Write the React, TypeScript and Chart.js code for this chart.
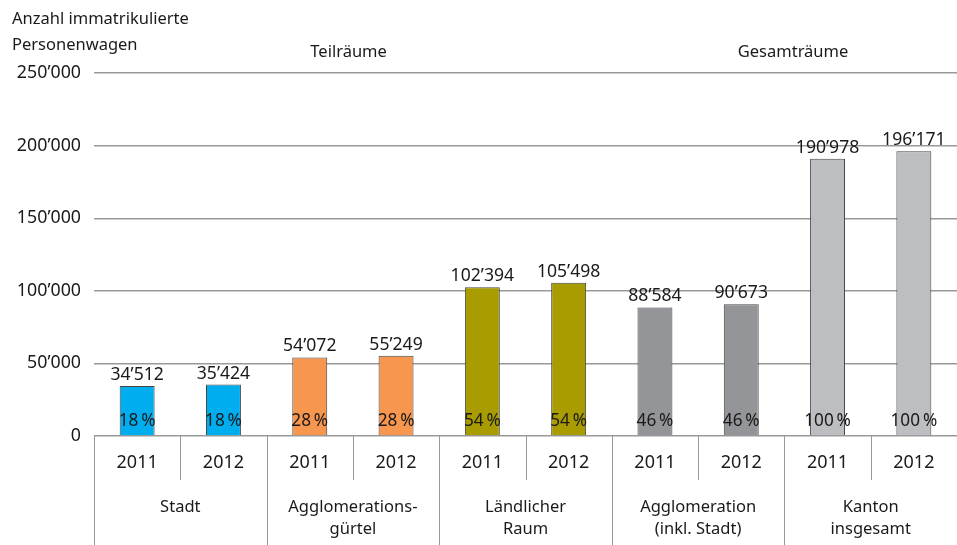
import React, { useEffect, useRef } from "react";
import { Chart, registerables } from "chart.js";

Chart.register(...registerables);

const years = ["2011", "2012", "2011", "2012", "2011", "2012", "2011", "2012", "2011", "2012"];
const groupLabels: string[][] = [
  ["Stadt"],
  ["Agglomerations-", "gürtel"],
  ["Ländlicher", "Raum"],
  ["Agglomeration", "(inkl. Stadt)"],
  ["Kanton", "insgesamt"],
];
const values = [34512, 35424, 54072, 55249, 102394, 105498, 88584, 90673, 190978, 196171];
const shares = [18, 18, 28, 28, 54, 54, 46, 46, 100, 100];
const groupColors = ["#00AEEF", "#F7964F", "#A89C00", "#949598", "#BDBEC1"];
const yTitle = ["Anzahl immatrikulierte", "Personenwagen"];
const headers = [
  { text: "Teilräume", at: 2.45 },
  { text: "Gesamträume", at: 7.6 },
];
const yMax = 250000;
const yStep = 50000;

const FONT = "'Noto Sans', 'Open Sans', sans-serif";
const TEXT = "#1a1a1a";
const LINE = "#999999";

function fmt(n: number): string {
  return String(n).replace(/\B(?=(\d{3})+(?!\d))/g, "\u2019");
}

const overlay = {
  id: "overlay",
  afterDraw(chart: any) {
    const ctx = chart.ctx as CanvasRenderingContext2D;
    const x = chart.scales.x;
    const y = chart.scales.y;
    const n = values.length;
    const w = (x.right - x.left) / n;
    const base = y.getPixelForValue(0);
    const H = chart.height;
    ctx.save();
    ctx.fillStyle = TEXT;
    ctx.textAlign = "center";

    // value labels & percent labels
    for (let i = 0; i < n; i++) {
      const cx = x.getPixelForValue(i);
      const top = y.getPixelForValue(values[i]);
      ctx.font = `17.6px ${FONT}`;
      ctx.textBaseline = "alphabetic";
      ctx.fillText(fmt(values[i]), cx, top - 6);
      ctx.font = `17.2px ${FONT}`;
      ctx.textBaseline = "middle";
      ctx.fillText(`${shares[i]}\u2009%`, cx, base - 15);
    }

    // table lines
    ctx.strokeStyle = LINE;
    ctx.lineWidth = 1;
    ctx.beginPath();
    for (let i = 0; i <= n; i++) {
      const lx = Math.round(x.left + i * w) + 0.5;
      const bottom = i % 2 === 0 ? H : base + 44;
      ctx.moveTo(lx, base);
      ctx.lineTo(lx, bottom);
    }
    ctx.stroke();

    // year labels
    ctx.font = `18px ${FONT}`;
    ctx.textBaseline = "middle";
    for (let i = 0; i < n; i++) {
      ctx.fillText(years[i], x.getPixelForValue(i), base + 27);
    }
    // group labels
    ctx.font = `16.5px ${FONT}`;
    for (let g = 0; g < groupLabels.length; g++) {
      const cx = x.left + (2 * g + 1) * w;
      groupLabels[g].forEach((t, k) => {
        ctx.fillText(t, cx, base + 71 + k * 22);
      });
    }

    // headers
    ctx.font = `16.5px ${FONT}`;
    for (const h of headers) {
      ctx.fillText(h.text, x.getPixelForValue(h.at), 52);
    }

    // y title
    ctx.textAlign = "left";
    yTitle.forEach((t, k) => ctx.fillText(t, 12, 19 + k * 26));
    ctx.restore();
  },
};

export default function App() {
  const ref = useRef<HTMLCanvasElement | null>(null);
  useEffect(() => {
    if (!ref.current) return;
    const colors = values.map((_, i) => groupColors[Math.floor(i / 2)]);
    const chart = new Chart(ref.current, {
      type: "bar",
      data: {
        labels: years,
        datasets: [
          {
            data: values,
            backgroundColor: colors,
            borderColor: "#454545",
            borderWidth: 1,
            categoryPercentage: 1,
            barPercentage: 0.405,
          },
        ],
      },
      options: {
        animation: false,
        responsive: true,
        maintainAspectRatio: false,
        layout: { padding: { top: 73, bottom: 109, left: 0, right: 0 } },
        plugins: { legend: { display: false }, tooltip: { enabled: false }, title: { display: false } },
        scales: {
          x: { display: false },
          y: {
            min: 0,
            max: yMax,
            border: { display: false },
            grid: { color: LINE, lineWidth: 1.4, drawTicks: false },
            ticks: {
              stepSize: yStep,
              padding: 13,
              color: TEXT,
              font: { family: FONT, size: 17.8 },
              callback: (v: any) => fmt(Number(v)),
            },
            afterFit: (s: any) => {
              s.width = 94;
            },
          },
        },
      },
      plugins: [overlay],
    });
    return () => chart.destroy();
  }, []);
  return (
    <div style={{ position: "fixed", left: 0, top: 0, width: 957, height: 545, background: "#fff" }}>
      <canvas ref={ref} />
    </div>
  );
}
